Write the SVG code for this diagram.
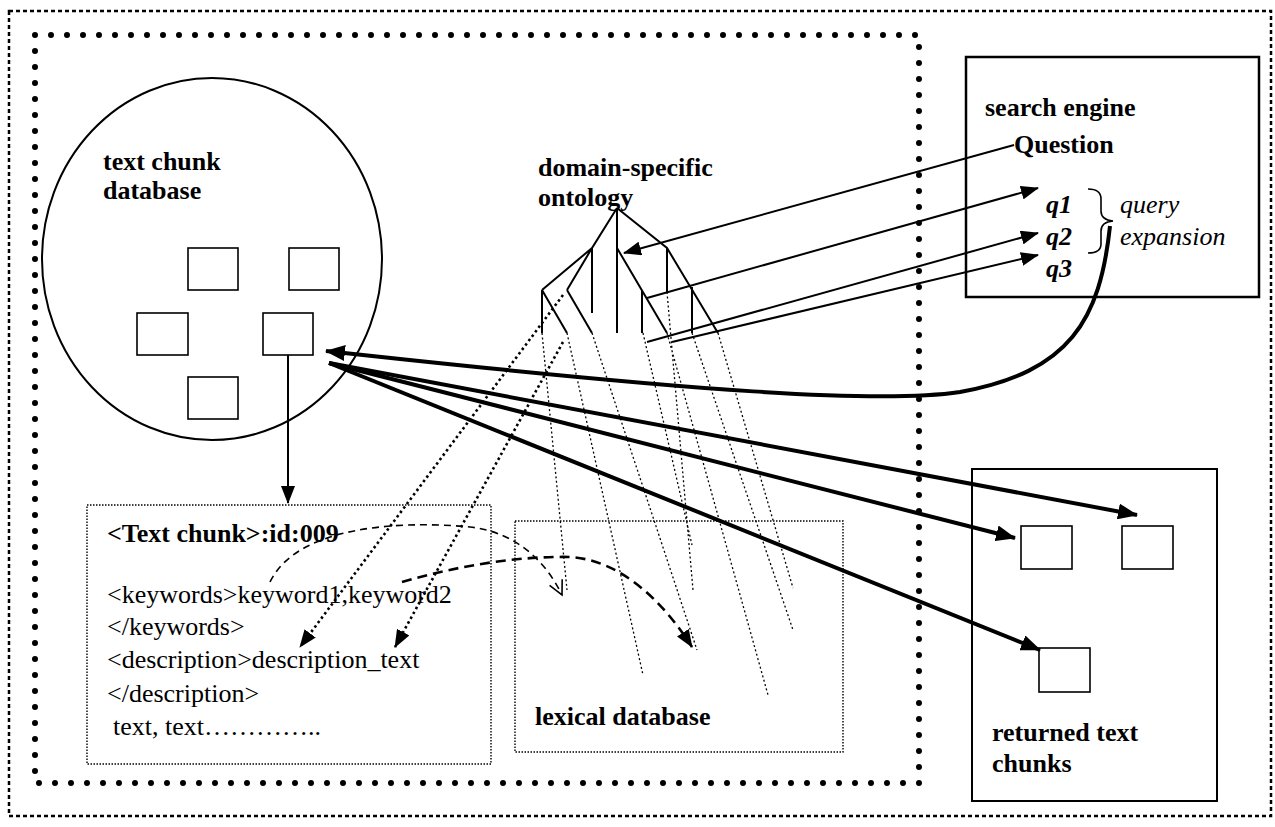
<svg xmlns="http://www.w3.org/2000/svg" width="1275" height="827" viewBox="0 0 1275 827">
  <style>
    text { font-family: "Liberation Serif", "Times New Roman", serif; font-size: 26px; fill: #000; }
    .b { font-weight: bold; }
    .i { font-style: italic; }
    .bi { font-weight: bold; font-style: italic; }
    .box { fill: none; stroke: #000; stroke-width: 2; }
    .sq { fill: #fff; stroke: #000; stroke-width: 1.6; }
    .thin-dot { fill: none; stroke: #000; stroke-width: 1.4; stroke-dasharray: 1.5 1.5; }
    .tree { fill: none; stroke: #000; stroke-width: 2; }
    .tree-dot { fill: none; stroke: #000; stroke-width: 1.3; stroke-dasharray: 2 2.5; }
    .link { fill: none; stroke: #000; stroke-width: 2; }
    .thick { fill: none; stroke: #000; stroke-width: 4; }
  </style>
  <defs>
    <marker id="ah" markerUnits="userSpaceOnUse" markerWidth="18" markerHeight="14" refX="17" refY="7" orient="auto">
      <path d="M0,0 L18,7 L0,14 z" fill="#000"/>
    </marker>
    <marker id="ah-lg" markerUnits="userSpaceOnUse" markerWidth="20" markerHeight="16" refX="19" refY="8" orient="auto">
      <path d="M0,0 L20,8 L0,16 z" fill="#000"/>
    </marker>
    <marker id="ah-open" markerUnits="userSpaceOnUse" markerWidth="18" markerHeight="16" refX="16" refY="8" orient="auto">
      <path d="M2,1 L16,8 L2,15" fill="none" stroke="#000" stroke-width="1.6"/>
    </marker>
  </defs>

  <!-- frames -->
  <rect x="9" y="11" width="1262" height="805" fill="none" stroke="#000" stroke-width="2.5" stroke-dasharray="4 3"/>
  <rect x="35" y="35" width="884" height="748" fill="none" stroke="#000" stroke-width="6" stroke-linecap="round" stroke-dasharray="0 16"/>

  <!-- text chunk database -->
  <g id="chunk-db">
    <ellipse cx="212" cy="259" rx="170" ry="181" class="box"/>
    <text class="b" x="103" y="170">text chunk</text>
    <text class="b" x="103" y="199">database</text>
    <rect class="sq" x="188" y="248" width="50" height="42"/>
    <rect class="sq" x="289" y="248" width="50" height="42"/>
    <rect class="sq" x="137" y="313" width="51" height="42"/>
    <rect class="sq" x="263" y="313" width="50" height="42"/>
    <rect class="sq" x="188" y="377" width="50" height="42"/>
  </g>

  <!-- text chunk record -->
  <g id="chunk-record">
    <rect class="thin-dot" x="87" y="505" width="404" height="259"/>
    <text class="b" x="107" y="542">&lt;Text chunk&gt;:id:009</text>
    <text x="107" y="603">&lt;keywords&gt;keyword1,keyword2</text>
    <text x="107" y="635">&lt;/keywords&gt;</text>
    <text x="107" y="668">&lt;description&gt;description_text</text>
    <text x="107" y="702">&lt;/description&gt;</text>
    <text x="113" y="735">text, text…………..</text>
  </g>

  <!-- lexical database -->
  <g id="lexical-db">
    <rect class="thin-dot" x="515" y="521" width="328" height="231"/>
    <text class="b" x="535" y="725">lexical database</text>
  </g>

  <!-- domain-specific ontology -->
  <g id="ontology">
    <text class="b" x="538" y="176">domain-specific</text>
    <text class="b" x="538" y="206">ontology</text>
    <path class="tree" d="M617,208 L592,248 L542,290 M592,248 L567,290 M592,248 L592,313 M617,208 L617,333 M617,208 L667,248 L718,333 M667,248 L667,292 M692,287 L692,333 M617,248 L667,333 M642,290 L642,333 M542,290 L542,333 M542,290 L567,333 M567,290 L592,333"/>
    <path class="tree-dot" d="M542,333 L567,590 M567,333 L643,675 M592,333 L697,650 M643,333 L692,545 M667,292 L693,590 M667,333 L768,695 M692,333 L793,630 M718,333 L793,588"/>
  </g>

  <!-- search engine -->
  <g id="search-engine">
    <rect x="966" y="57" width="293" height="240" fill="none" stroke="#000" stroke-width="2.5"/>
    <text class="b" x="985" y="116">search engine</text>
    <text class="b" x="1014" y="153">Question</text>
    <text class="bi" x="1046" y="213">q1</text>
    <text class="bi" x="1046" y="245">q2</text>
    <text class="bi" x="1046" y="277">q3</text>
    <path d="M1088,189 Q1101,189 1101,199 L1101,211 Q1101,220 1113,221 Q1101,222 1101,231 L1101,244 Q1101,253 1088,253" fill="none" stroke="#000" stroke-width="1.6"/>
    <text class="i" x="1120" y="213">query</text>
    <text class="i" x="1120" y="245">expansion</text>
  </g>

  <!-- returned text chunks -->
  <g id="returned">
    <rect x="972" y="469" width="245" height="332" fill="none" stroke="#000" stroke-width="2"/>
    <rect class="sq" x="1021" y="526" width="51" height="43"/>
    <rect class="sq" x="1122" y="526" width="51" height="43"/>
    <rect class="sq" x="1039" y="648" width="51" height="44"/>
    <text class="b" x="992" y="741">returned text</text>
    <text class="b" x="992" y="772">chunks</text>
  </g>

  <!-- connectors -->
  <g id="connectors">
    <!-- chunk to record -->
    <path class="link" d="M288,355 L288,503" marker-end="url(#ah)"/>
    <!-- question and expanded queries against the ontology -->
    <path class="link" d="M1014,145 L624,253" marker-end="url(#ah)"/>
    <path class="link" d="M647,298 L1038,188" marker-end="url(#ah)"/>
    <path class="link" d="M647,342 L1038,233" marker-end="url(#ah)"/>
    <path class="link" d="M672,342 L1038,255" marker-end="url(#ah)"/>
    <!-- ontology terms to description -->
    <path d="M563,295 L300,647" fill="none" stroke="#000" stroke-width="2.6" stroke-dasharray="2.5 3" marker-end="url(#ah)"/>
    <path d="M563,342 L395,647" fill="none" stroke="#000" stroke-width="2.6" stroke-dasharray="2.5 3" marker-end="url(#ah)"/>
    <!-- keywords to lexical database -->
    <path d="M270,582 C300,520 420,522 470,527 C515,532 545,560 562,595" fill="none" stroke="#000" stroke-width="1.6" stroke-dasharray="7 5" marker-end="url(#ah-open)"/>
    <path d="M402,582 C460,565 520,556 570,557 C620,560 662,600 692,647" fill="none" stroke="#000" stroke-width="2.6" stroke-dasharray="10 6" marker-end="url(#ah)"/>
    <!-- expanded query retrieves chunk -->
    <path class="thick" d="M1110,226 C1100,320 1070,372 960,392 C880,404 700,392 326,351" marker-end="url(#ah-lg)"/>
    <!-- chunk matches returned -->
    <path class="thick" d="M329,363 L1137,515" marker-end="url(#ah-lg)"/>
    <path class="thick" d="M329,363 L1015,538" marker-end="url(#ah-lg)"/>
    <path class="thick" d="M329,363 L1040,650" marker-end="url(#ah-lg)"/>
  </g>
</svg>
